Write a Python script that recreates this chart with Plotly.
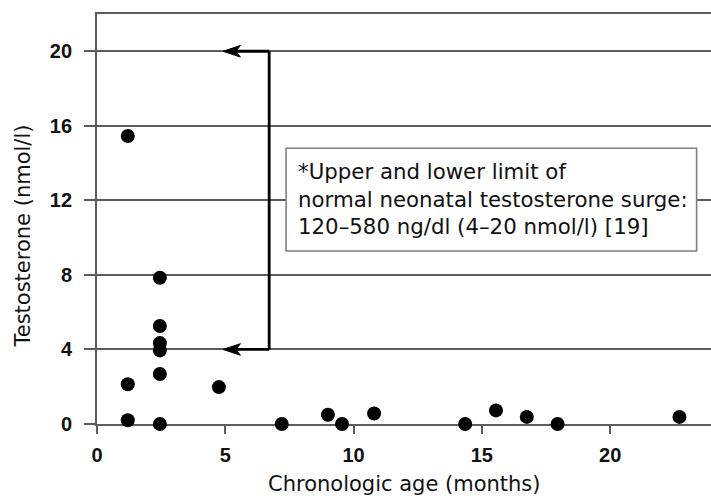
import plotly.graph_objects as go

# ---- data ----
age_months = [1.2, 1.2, 1.2, 2.45, 2.45, 2.45, 2.45, 2.45, 2.45, 4.75,
              7.2, 9.0, 9.55, 10.8, 14.35, 15.55, 16.75, 17.95, 22.7]
testosterone = [15.45, 2.13, 0.2, 7.85, 5.26, 4.34, 3.95, 2.68, 0.0, 1.98,
                0.0, 0.5, 0.0, 0.56, 0.0, 0.73, 0.38, 0.0, 0.38]
surge_limits = [4, 20]          # lower / upper normal limit (nmol/l)
x_ticks = [0, 5, 10, 15, 20]
y_ticks = [0, 4, 8, 12, 16, 20]
note_lines = ["*Upper and lower limit of",
              "normal neonatal testosterone surge:",
              "120\u2013580 ng/dl (4\u201320 nmol/l) [19]"]

GRID = "#5c5c5c"
FONT = "DejaVu Sans"
TICKFONT = "Liberation Sans"

fig = go.Figure()
fig.add_trace(go.Scatter(
    x=age_months, y=testosterone, mode="markers",
    marker=dict(color="black", size=14, line=dict(width=0)),
    cliponaxis=False, showlegend=False, hoverinfo="skip"))

# bracket showing the normal surge range
arrow_x = 6.71      # vertical connector position
tip_x = 4.91        # arrowhead tip
head_len = 0.68
notch = 0.5
head_h = 0.31
fig.add_shape(type="line", x0=arrow_x, x1=arrow_x, y0=surge_limits[0], y1=surge_limits[1],
              line=dict(color="black", width=2.8), layer="above")
for lim in surge_limits:
    fig.add_shape(type="line", x0=arrow_x, x1=tip_x + notch, y0=lim, y1=lim,
                  line=dict(color="black", width=2.8), layer="above")
    path = (f"M{tip_x},{lim} L{tip_x + head_len},{lim + head_h} "
            f"L{tip_x + notch},{lim} L{tip_x + head_len},{lim - head_h} Z")
    fig.add_shape(type="path", path=path, fillcolor="black",
                  line=dict(color="black", width=1), layer="above")

# note box
fig.add_shape(type="rect", x0=7.37, x1=23.37, y0=9.28, y1=14.8,
              fillcolor="white", line=dict(color="#808080", width=1.6), layer="above")
fig.add_annotation(x=7.76, y=12.05, xref="x", yref="y", xanchor="left", yanchor="middle",
                   align="left", showarrow=False, text="<br>".join(note_lines),
                   font=dict(family=FONT, size=21.3, color="#111"))

# axis titles
fig.add_annotation(xref="paper", yref="paper", x=0.5, y=0, yshift=-60,
                   xanchor="center", yanchor="middle", showarrow=False,
                   text="Chronologic age (months)",
                   font=dict(family=FONT, size=21, color="#111"))
fig.add_annotation(xref="paper", yref="y", x=0, xshift=-74, y=10.06,
                   xanchor="center", yanchor="middle", textangle=-90, showarrow=False,
                   text="Testosterone (nmol/l)",
                   font=dict(family=FONT, size=21, color="#111"))

fig.update_xaxes(range=[0, 23.93], tickvals=x_ticks, ticks="outside", ticklen=8,
                 tickwidth=1.5, tickcolor=GRID, showgrid=False, zeroline=False,
                 showline=True, linecolor=GRID, linewidth=1.8, mirror=True,
                 tickfont=dict(family=TICKFONT, size=20, color="#111", weight="bold"),
                 ticklabelstandoff=4, layer="below traces")
fig.update_yaxes(range=[0, 22], tickvals=y_ticks, ticks="outside", ticklen=11,
                 tickwidth=1.5, tickcolor=GRID, showgrid=True, gridcolor=GRID,
                 gridwidth=1.5, zeroline=False, showline=True, linecolor=GRID,
                 linewidth=1.8,
                 tickfont=dict(family=TICKFONT, size=20, color="#111", weight="bold"),
                 ticklabelstandoff=8, layer="below traces")

fig.update_layout(width=711, height=498, margin=dict(l=97, r=0, t=14, b=74),
                  plot_bgcolor="white", paper_bgcolor="white", showlegend=False)

fig.write_html("out.html", config={"displayModeBar": False},
               post_script="document.body.style.margin='0px';document.body.style.overflow='hidden';")
